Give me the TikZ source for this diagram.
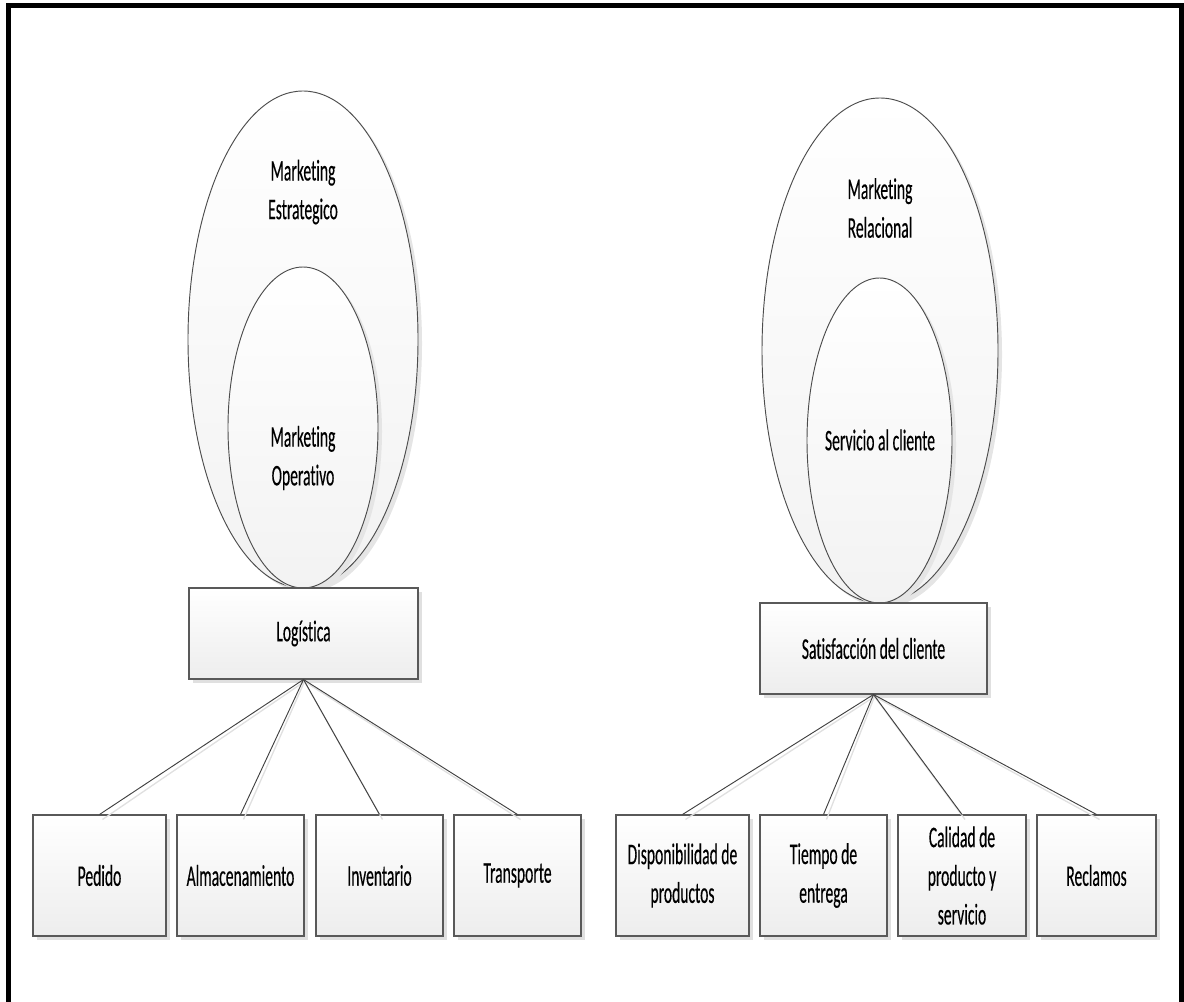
\documentclass[tikz,border=0pt]{standalone}
\usepackage{fontspec}
\setmainfont{Carlito}[FakeStretch=0.52,FakeBold=0.3,RawFeature=-liga]
\usetikzlibrary{shapes.geometric,shadows}
\tikzset{
  box/.style={draw=black!65, line width=0.8pt, top color=white, bottom color=black!7,
    align=center, inner sep=0pt, text=black,
    drop shadow={shadow xshift=3pt, shadow yshift=-3pt, fill=black!12, opacity=1}},
  oval/.style={ellipse, draw=black!70, line width=0.7pt, top color=white, bottom color=black!5,
    inner sep=0pt,
    drop shadow={shadow xshift=3pt, shadow yshift=-3pt, fill=black!10, opacity=1}},
  lbl/.style={align=center, text=black, inner sep=0pt},
  conn/.style={draw=black!75, line width=0.7pt},
  connsh/.style={draw=black!12, line width=1pt},
  frameline/.style={line width=3.75pt, draw=black}
}
\begin{document}
\begin{tikzpicture}[x=0.75pt,y=-0.75pt,
  every node/.append style={font=\fontsize{22.5pt}{29pt}\selectfont}]
\useasboundingbox (0,0) rectangle (1184,1002);
\clip (0,0) rectangle (1184,1002);
% frame
\coordinate (f1) at (8,1002);
\coordinate (f2) at (8,5.5);
\coordinate (f3) at (1181,5.5);
\coordinate (f4) at (1181,1002);
\draw[frameline] (f1) -- (f2) -- (f3) -- (f4);
% left ellipses
\node[oval, minimum width=172.5pt, minimum height=372.75pt] (lo) at (303,339.5) {};
\node[oval, minimum width=112.5pt, minimum height=240.75pt] (li) at (303,427.5) {};
\node[lbl] (tlo) at (303,192) {Marketing\\Estrategico};
\node[lbl] (tli) at (303,458) {Marketing\\Operativo};
% right ellipses
\node[oval, minimum width=177pt, minimum height=378.75pt] (ro) at (880,350.5) {};
\node[oval, minimum width=108.75pt, minimum height=243.75pt] (ri) at (879.5,440.5) {};
\node[lbl] (tro) at (880,208) {Marketing\\Relacional};
\node[lbl] (tri) at (880,440) {Servicio al cliente};
% mid boxes
\node[box, minimum width=171.75pt, minimum height=68.25pt] (logi) at (303.5,633.5) {Logística};
\node[box, minimum width=170.25pt, minimum height=68.25pt] (sat) at (873.5,648.5) {Satisfacción del cliente};
% bottom boxes
\node[box, minimum width=99.75pt, minimum height=90.75pt] (ped) at (99.5,875.5) {Pedido};
\node[box, minimum width=95.25pt, minimum height=90.75pt] (alm) at (240.5,875.5) {Almacenamiento};
\node[box, minimum width=95.25pt, minimum height=90.75pt] (inv) at (379.5,875.5) {Inventario};
\node[box, minimum width=95.25pt, minimum height=90.75pt] (tra) at (517.5,875.5) {Transporte};
\node[box, minimum width=99.75pt, minimum height=90.75pt] (dis) at (682.5,875.5) {Disponibilidad de\\productos};
\node[box, minimum width=95.25pt, minimum height=90.75pt] (tie) at (823.5,875.5) {Tiempo de\\entrega};
\node[box, minimum width=96pt, minimum height=90.75pt] (cal) at (962,875.5) {Calidad de\\producto y\\servicio};
\node[box, minimum width=89.25pt, minimum height=90.75pt] (rec) at (1096.5,875.5) {Reclamos};
% connector shadows
\foreach \t in {ped,alm,inv,tra}
  \draw[connsh] ([shift={(1,2)}]logi.south) -- ([shift={(3,5)}]\t.north);
\foreach \t in {dis,tie,cal,rec}
  \draw[connsh] ([shift={(1,2)}]sat.south) -- ([shift={(3,5)}]\t.north);
% connectors
\foreach \t in {ped,alm,inv,tra}
  \draw[conn] (logi.south) -- (\t.north);
\foreach \t in {dis,tie,cal,rec}
  \draw[conn] (sat.south) -- (\t.north);
\end{tikzpicture}
\end{document}
